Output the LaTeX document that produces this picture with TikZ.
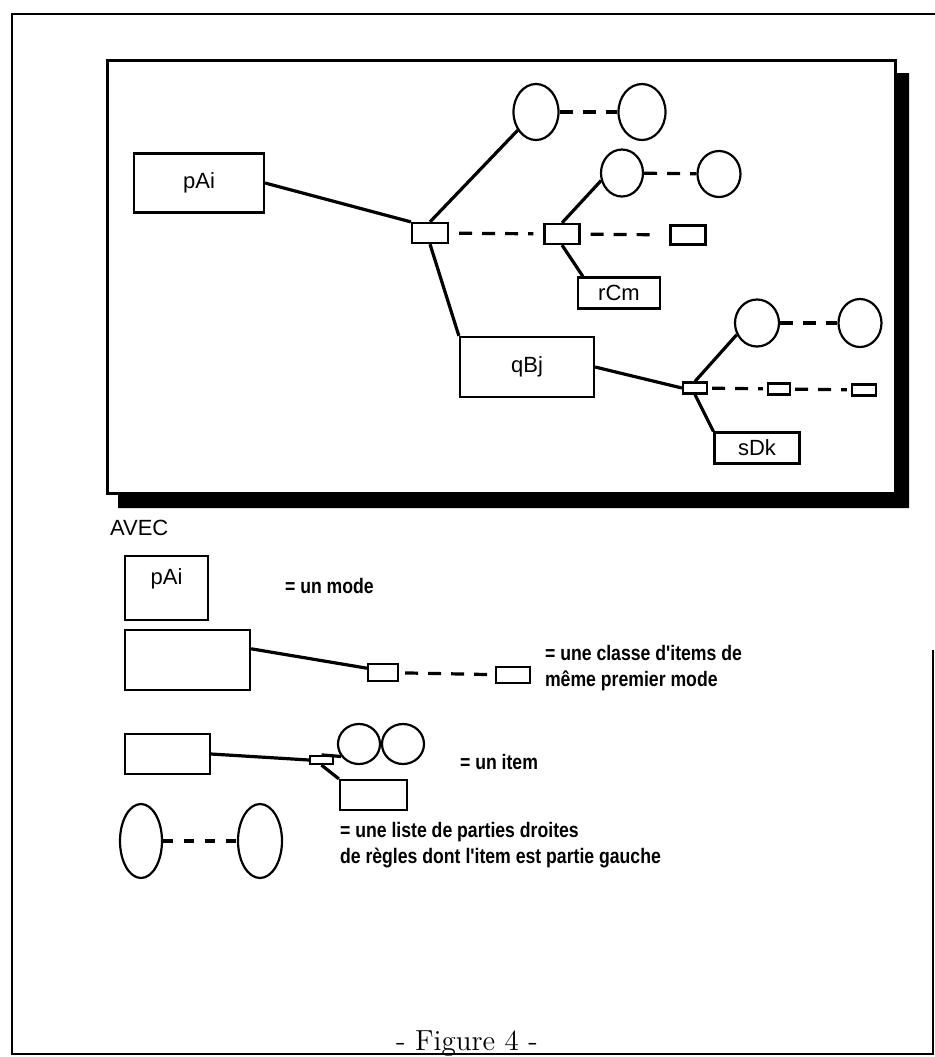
\documentclass[tikz,border=0pt]{standalone}
\usepackage{fontspec}
\usetikzlibrary{shapes.geometric}
\newfontfamily\hlv{Liberation Sans}
\newfontfamily\hlvn{Liberation Sans}[FakeStretch=0.84]
\newcommand\lblfont{\hlv\fontsize{11}{13}\selectfont}
\newcommand\lgdfont{\hlvn\bfseries\fontsize{10.5}{13}\selectfont}

\begin{document}
\begin{tikzpicture}[x=0.5pt,y=-0.5pt,
    mode/.style={draw,line width=1.1pt,inner sep=0pt,font=\lblfont},
    itm/.style={draw,line width=1.1pt,inner sep=0pt},
    rhs/.style={draw,ellipse,line width=1.1pt,inner sep=0pt},
    link/.style={line width=1.6pt},
    more/.style={line width=1.6pt,dash pattern=on 6.5pt off 5pt}]
      \useasboundingbox (0,0) rectangle (935,1057);
      % frames
      \draw[line width=1pt] (935,14) -- (12,14) -- (12,1054) -- (933,1054) -- (933,650);
      \fill (895,73) -- (909,73) -- (909,508) -- (118,508) -- (118,493) -- (895,493) -- cycle;
      \draw[line width=1.5pt,fill=white] (107,60) rectangle (895,493);
      % modes
      \node[mode,minimum width=65pt,minimum height=29.5pt] (pAi) at (199,183) {pAi};
      \node[mode,minimum width=67pt,minimum height=30pt] (qBj) at (527,367) {qBj};
      \node[mode,minimum width=41pt,minimum height=15.5pt] (rCm) at (619,293) {rCm};
      \node[mode,minimum width=42.5pt,minimum height=15.5pt] (sDk) at (757,448) {sDk};
      % items
      \node[itm,minimum width=18pt,minimum height=10pt] (i1) at (430,233) {};
      \node[itm,minimum width=17.5pt,minimum height=10pt] (i2) at (562,234) {};
      \node[itm,minimum width=17.5pt,minimum height=9.5pt] (i3) at (688,235) {};
      \node[itm,minimum width=12pt,minimum height=5.5pt] (i4) at (695,388) {};
      \node[itm,minimum width=11pt,minimum height=5.5pt] (i5) at (779,389) {};
      \node[itm,minimum width=12pt,minimum height=5.5pt] (i6) at (864,390) {};
      % right hand sides
      \node[rhs,minimum width=22.5pt,minimum height=28pt] (o1) at (536,112) {};
      \node[rhs,minimum width=23.5pt,minimum height=28pt] (o2) at (642,112) {};
      \node[rhs,minimum width=21pt,minimum height=23.5pt] (o3) at (622,173) {};
      \node[rhs,minimum width=21.5pt,minimum height=23pt] (o4) at (719,174) {};
      \node[rhs,minimum width=22pt,minimum height=23.5pt] (o5) at (757,323) {};
      \node[rhs,minimum width=21.5pt,minimum height=24pt] (o6) at (860,323) {};
      \draw[link] (pAi.east) -- (i1.north west);
      \draw[link] (i1.north) -- (o1.225);
      \draw[link] (i1.south) -- (qBj.north west);
      \draw[link] (i2.north) -- (o3.200);
      \draw[link] (i2.south) -- ([xshift=3pt]rCm.north west);
      \draw[link] (qBj.east) -- (i4.west);
      \draw[link] (i4.north) -- (o5.210);
      \draw[link] (i4.south) -- (sDk.north west);
      \draw[more] (o1) -- (o2);
      \draw[more] (o3) -- (o4);
      \draw[more] (o5) -- (o6);
      \draw[more,shorten <=5pt,shorten >=5pt] (i1) -- (i2);
      \draw[more,shorten <=5pt,shorten >=5pt] (i2) -- (i3);
      \draw[more,shorten <=2pt,shorten >=2pt] (i4) -- (i5);
      \draw[more,shorten <=2pt,shorten >=2pt] (i5) -- (i6);
      % legend
      \node[anchor=west,font=\lblfont] (avec) at (103,528) {AVEC};
      \node[mode,minimum width=41.5pt,minimum height=32pt,
        label={[anchor=north,font=\lblfont,yshift=-3.3pt]north:pAi}] (lA) at (166.5,588) {};
      \node[anchor=west,font=\lgdfont] (unmode) at (278,586) {= un mode};
      \node[mode,minimum width=62.5pt,minimum height=30pt] (lB) at (187.5,660) {};
      \node[itm,minimum width=15pt,minimum height=8.5pt] (lb1) at (383,672.5) {};
      \node[itm,minimum width=17pt,minimum height=8pt] (lb2) at (513,675) {};
      \draw[link] (lB.10) -- (lb1.165);
      \draw[more,shorten <=3pt,shorten >=2pt] (lb1) -- (lb2);
      \node[anchor=west,font=\lgdfont,align=left] (classe) at (538,668) {= une classe d'items de\\même premier mode};
      \node[mode,minimum width=42.5pt,minimum height=20pt] (lC) at (167.5,754) {};
      \node[itm,minimum width=11.5pt,minimum height=4pt] (lc1) at (321.5,760) {};
      \node[rhs,minimum width=21pt,minimum height=20pt] (lo1) at (359,744) {};
      \node[rhs,minimum width=21pt,minimum height=20pt] (lo2) at (403,744) {};
      \node[mode,minimum width=33.5pt,minimum height=15pt] (lD) at (373.5,795) {};
      \draw[link] (lC.east) -- (lc1.west);
      \draw[link] (lc1.north) -- (lo1.215);
      \draw[link] (lc1.south) -- (lD.north west);
      \draw[link] (lo1) -- (lo2);
      \node[anchor=west,font=\lgdfont] (unitem) at (453,762) {= un item};
      \node[rhs,minimum width=21pt,minimum height=37pt] (lo3) at (141,841) {};
      \node[rhs,minimum width=22pt,minimum height=37pt] (lo4) at (260,841) {};
      \draw[more,dash pattern=on 5pt off 5.5pt] (lo3) -- (lo4);
      \node[anchor=west,font=\lgdfont,align=left] (liste) at (333,845) {= une liste de parties droites\\de règles dont l'item est partie gauche};
      % caption
      \node (cap) at (467,1044) {\fontsize{14.5}{17}\selectfont - Figure 4 -};
\end{tikzpicture}
\end{document}
